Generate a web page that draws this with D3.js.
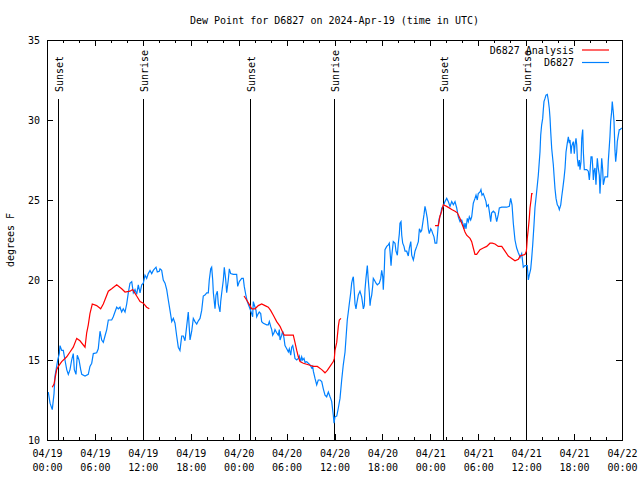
<!DOCTYPE html>
<html>
<head>
<meta charset="utf-8">
<script src="https://cdn.jsdelivr.net/npm/d3@7"></script>
<style>
  html, body { margin: 0; padding: 0; background: #fff; }
  svg { display: block; }
  text { font-family: "DejaVu Sans Mono", monospace; font-size: 10px; fill: #000; }
</style>
</head>
<body>
<svg id="chart" width="640" height="480"></svg>
<script>
// ---------------- DATA ----------------
const title = "Dew Point for D6827 on 2024-Apr-19 (time in UTC)";
const yLabel = "degrees F";
const startUTC = Date.UTC(2024, 3, 19, 0, 0);   // 04/19 00:00 UTC
const endUTC = Date.UTC(2024, 3, 22, 0, 0);     // 04/22 00:00 UTC
const yTicks = [10, 15, 20, 25, 30, 35];
const seriesNames = ["D6827 Analysis", "D6827"];
const seriesColors = ["#ff0000", "#0080ff"];

// sunrise / sunset markers (hours after 04/19 00:00 UTC)
const eventHours = [1.43, 12.08, 25.46, 35.98, 49.55, 60.02];
const eventLabels = ["Sunset", "Sunrise", "Sunset", "Sunrise", "Sunset", "Sunrise"];

// observed dew point (hours after start, degrees F)
const observed = [
[0.16,13.0],[0.38,12.3],[0.66,11.9],[0.88,12.9],[1.0,14.0],[1.21,14.6],[1.34,15.0],[1.54,15.4],[1.63,15.9],[1.84,15.6],
[2.04,15.6],[2.25,15.0],[2.47,14.4],[2.67,14.1],[2.88,14.4],[3.09,15.0],[3.29,15.4],[3.42,14.4],[3.63,14.1],[3.79,15.3],
[4.01,15.0],[4.22,14.4],[4.35,14.1],[4.76,14.0],[5.17,14.1],[5.38,14.6],[5.60,14.8],[5.80,15.4],[6.22,15.45],[6.42,15.7],
[6.64,16.8],[6.85,16.25],[7.05,16.1],[7.26,16.5],[7.48,16.9],[7.68,17.5],[8.10,17.5],[8.30,17.7],[8.51,18.0],[8.73,18.3],
[8.93,18.2],[9.14,18.3],[9.35,18.0],[9.55,18.2],[9.77,18.0],[9.98,18.5],[10.18,19.2],[10.39,19.8],[10.61,19.9],[10.81,19.2],
[11.02,19.4],[11.23,19.1],[11.43,19.7],[11.65,19.2],[11.86,19.7],[12.06,19.8],[12.27,20.3],[12.48,20.1],[12.68,20.4],[12.90,20.6],
[13.11,20.4],[13.31,20.6],[13.65,20.8],[13.81,20.5],[14.06,20.55],
[14.15,20.7],[14.36,20.6],[14.56,20.0],[14.78,19.8],[14.99,19.4],[15.19,18.75],[15.40,18.1],[15.62,17.4],[15.82,17.6],[16.03,17.3],
[16.24,16.5],[16.44,15.8],[16.65,15.6],[16.87,16.5],[17.07,16.5],[17.28,16.2],[17.49,17.1],[17.69,18.0],[17.91,16.25],[18.12,16.8],
[18.32,17.6],[18.53,17.4],[18.75,17.25],[18.95,17.45],[19.16,17.6],[19.37,18.1],[19.57,19.0],[19.78,19.06],[20.0,19.2],[20.2,19.2],
[20.32,20.0],[20.5,20.7],[20.62,20.8],[20.75,20.0],[20.83,19.2],[21.04,18.2],[21.16,19.06],[21.33,19.3],[21.45,18.5],[21.66,18.0],
[21.75,18.65],[21.88,19.2],[22.08,20.0],[22.2,20.8],[22.38,20.0],[22.5,19.2],[22.7,20.0],[22.83,20.7],[23.0,20.4],[23.33,20.35],
[23.75,20.35],[23.88,19.6],[24.08,19.9],[24.38,20.1],[24.58,20.1],[24.7,19.6],[24.92,19.0],[25.08,18.65],
[25.42,18.2],[25.63,17.9],[25.75,17.7],[25.83,18.65],[26.05,18.3],[26.17,18.1],[26.26,17.7],[26.46,17.9],[26.58,18.0],[26.76,17.9],
[26.88,17.4],[27.09,17.3],[27.51,17.2],[27.71,17.2],[27.84,17.4],[28.01,17.1],[28.14,16.9],[28.26,16.55],[28.43,16.7],[28.55,16.9],
[28.76,16.7],[28.96,16.55],[29.09,16.9],[29.18,16.25],[29.39,16.55],[29.51,16.8],[29.68,16.35],[29.8,15.9],[30.02,15.7],[30.22,15.5],
[30.34,15.7],[30.52,15.3],[30.64,15.8],[30.77,15.9],[30.93,15.5],[31.05,15.1],[31.27,15.0],[31.47,15.1],[31.59,15.25],[31.77,14.9],
[31.89,15.2],[32.02,15.0],[32.18,15.1],[32.31,14.85],[32.52,14.9],[32.72,14.8],[32.93,14.7],[33.15,14.5],[33.27,14.6],[33.35,14.3],
[33.56,13.85],[33.77,13.45],[33.97,13.75],[34.19,13.75],[34.4,13.65],[34.6,13.2],[34.81,12.8],[35.02,12.7],[35.23,13.0],[35.44,12.7],
[35.52,12.6],[35.65,12.4],[35.85,11.55],[35.94,11.05],[36.06,11.45],[36.28,11.5],[36.48,12.0],[36.69,12.6],[36.9,13.75],[37.1,14.7],
[37.32,15.5],
[37.6,17.5],[37.73,18.0],[37.85,18.5],[38.03,19.2],[38.15,19.8],[38.28,20.1],[38.36,20.2],[38.44,19.6],[38.57,18.5],[38.69,18.2],
[38.78,18.5],[38.98,19.06],[39.19,19.3],[39.4,18.95],[39.53,18.5],[39.61,18.2],[39.73,18.4],[39.82,19.4],[39.94,20.1],[40.11,20.9],
[40.23,20.0],[40.36,19.2],[40.45,18.4],[40.53,18.75],[40.66,19.06],[40.78,19.6],[40.86,20.1],[40.99,20.0],[41.2,19.8],[41.36,19.7],
[41.61,19.8],[41.79,20.1],[41.91,20.6],[42.04,20.2],[42.11,19.4],[42.24,20.7],[42.32,21.9],[42.54,22.1],[42.74,22.2],[42.86,22.3],
[42.95,21.8],[43.08,20.9],[43.16,21.45],[43.36,22.4],[43.58,22.3],[43.7,21.8],[43.87,21.55],[43.99,22.3],[44.12,22.9],[44.2,23.55],
[44.33,23.65],[44.42,22.8],[44.54,22.3],[44.7,22.1],[44.83,21.8],[45.04,21.8],[45.24,21.5],[45.37,22.0],[45.55,22.4],[45.67,21.55],
[45.87,21.25],[45.96,21.45],[46.08,21.8],[46.3,22.1],[46.5,22.4],[46.63,23.2],[46.8,23.0],[46.92,23.1],[47.05,23.55],[47.21,24.1],
[47.33,24.6],[47.46,24.3],[47.62,23.85],[47.75,23.2],[47.87,22.9],[48.05,23.2],[48.17,23.1],[48.3,22.9],[48.46,22.7],[48.59,22.3],
[48.8,22.3],[48.87,22.7],[49.0,23.45],[49.12,23.85],[49.3,24.1],[49.42,24.5],[49.62,24.6],[49.83,24.9],[50.05,25.1],
[50.25,24.9],[50.46,24.6],[50.68,24.9],[50.88,24.7],[51.09,24.9],[51.3,24.5],[51.5,23.95],[51.72,23.65],[51.93,23.75],[52.13,23.45],
[52.22,23.2],[52.34,23.55],[52.47,23.2],[52.63,23.85],[52.76,23.65],[52.88,23.95],[53.05,23.75],[53.18,23.95],[53.38,24.8],[53.59,25.1],
[53.72,25.3],[53.88,25.0],[54.0,25.4],[54.22,25.5],[54.34,25.65],[54.47,25.3],[54.63,25.4],[54.84,25.1],[54.97,24.9],[55.06,24.6],
[55.26,24.7],[55.38,24.3],[55.56,23.65],[55.68,24.2],[55.89,24.3],[56.1,24.2],[56.31,23.65],[56.51,24.1],[56.64,24.5],[56.94,24.55],
[57.56,24.55],[57.89,24.6],[58.06,25.1],[58.23,24.7],[58.39,23.55],[58.6,22.5],[58.81,22.0],[59.02,21.7],[59.15,21.55],[59.23,21.4],
[59.44,21.65],[59.64,20.8],[59.85,20.9],[60.06,20.9],[60.14,20.9],[60.27,20.0],[60.39,20.3],[60.57,20.7],[60.69,21.35],[60.82,22.2],
[60.98,23.45],[61.1,24.5],[61.31,25.5],[61.52,26.55],[61.73,28.0],[61.82,29.05],[61.94,29.7],[62.07,30.1],[62.14,30.6],[62.23,31.15],
[62.36,31.35],[62.48,31.55],[62.65,31.6],[62.77,31.25],[62.9,30.7],[62.99,30.1],[63.07,29.3],[63.2,28.2],[63.4,27.2],[63.49,26.55],
[63.61,25.7],[63.74,25.1],[63.9,24.7],[64.03,24.6],[64.15,24.4],[64.33,24.7],[64.45,25.2],[64.58,25.7],[64.74,26.35],[64.87,27.0],
[64.99,28.0],[65.15,28.55],[65.28,28.95],[65.4,28.55],[65.49,28.75],[65.62,27.9],[65.7,28.35],[65.83,28.55],[65.91,28.65],[66.03,27.9],
[66.12,28.45],[66.24,28.85],[66.33,28.45],[66.41,27.6],[66.53,27.1],[66.66,27.5],[66.74,26.9],[66.87,27.4],[66.96,28.85],[67.08,29.4],
[67.16,28.0],[67.28,26.9],[67.58,26.9],[67.78,26.8],[67.91,26.25],[68.0,26.8],[68.12,27.7],[68.25,27.7],[68.33,27.1],[68.41,26.25],
[68.49,26.8],[68.62,27.0],[68.74,25.95],[68.83,26.9],[68.91,27.6],[69.03,27.0],[69.16,26.55],[69.24,25.4],[69.37,26.65],[69.46,27.6],
[69.58,26.9],[69.66,25.95],[69.87,26.45],[70.08,26.45],[70.2,26.45],[70.28,27.4],[70.41,28.35],[70.49,28.95],[70.58,29.9],[70.7,30.5],
[70.78,31.15],[70.91,30.5],[71.0,29.9],[71.12,28.1],[71.21,27.4],[71.33,28.0],[71.41,28.65],[71.54,29.05],[71.66,29.4],[71.75,29.4],
[71.96,29.5]
];

// analysis dew point (hours after start, degrees F); null = no analysis
const analysis = [
[0.66,13.3],[0.88,13.5],[1.21,14.4],[1.42,14.6],[1.84,14.9],[2.47,15.2],[2.88,15.5],[3.29,15.8],[3.72,16.35],[4.13,16.2],
[4.76,15.8],[4.97,16.7],[5.17,17.2],[5.38,17.9],[5.67,18.5],[6.22,18.4],[6.72,18.2],[7.05,18.5],[7.68,19.3],[8.10,19.45],
[8.73,19.7],[9.35,19.45],[9.77,19.25],[10.39,19.3],[10.73,19.4],[11.23,19.0],[11.65,18.65],[12.06,18.55],[12.48,18.3],[12.81,18.2],
[18.0,null],
[24.67,19.0],[25.0,18.75],[25.42,18.4],[25.63,18.2],[26.05,18.2],[26.46,18.4],[26.88,18.5],[27.3,18.4],[27.71,18.3],[28.0,18.1],
[28.34,17.8],[28.76,17.4],[29.18,17.1],[29.46,16.8],[29.71,16.55],[30.84,16.55],[31.05,16.1],[31.27,15.6],[31.47,15.2],[31.68,14.9],
[32.09,14.8],[32.72,14.7],[33.35,14.6],[33.85,14.6],[34.4,14.4],[34.81,14.2],[35.1,14.35],[35.44,14.6],[35.85,14.9],[35.98,15.1],
[36.06,15.6],[36.28,16.1],[36.48,17.1],[36.6,17.5],[36.81,17.6],
[42.0,null],
[48.59,23.4],[49.0,23.4],[49.21,24.0],[49.42,24.3],[49.62,24.7],[50.05,24.6],[50.68,24.4],[51.09,24.3],[51.38,24.2],[51.72,23.85],
[51.93,23.55],[52.13,23.3],[52.34,23.0],[52.55,22.8],[52.97,22.6],[53.18,22.4],[53.38,22.0],[53.59,21.6],[53.8,21.6],[54.22,21.9],
[54.63,22.0],[55.06,22.1],[55.47,22.3],[55.76,22.3],[56.1,22.25],[56.51,22.1],[56.94,22.1],[57.35,21.8],[57.76,21.5],[58.19,21.35],
[58.6,21.2],[59.02,21.3],[59.23,21.5],[59.57,21.55],[59.85,21.6],[60.02,21.8],[60.06,22.0],[60.14,22.6],[60.27,23.2],[60.39,23.85],
[60.48,24.5],[60.61,25.0],[60.69,25.4],[60.82,25.4]
];

// ---------------- CHART ----------------
const W = 640, H = 480;
const m = { left: 47, right: 622, top: 40, bottom: 440 };
const svg = d3.select("#chart");
svg.append("rect").attr("width", W).attr("height", H).attr("fill", "#fff");

const toDate = h => new Date(startUTC + h * 3600e3);
const x = d3.scaleUtc().domain([new Date(startUTC), new Date(endUTC)]).range([m.left, m.right]);
const y = d3.scaleLinear().domain([10, 35]).range([m.bottom, m.top]);

// title
svg.append("text").attr("x", (m.left + m.right) / 2).attr("y", 24)
  .attr("text-anchor", "middle").text(title);

// y label
svg.append("text").attr("transform", `translate(14,${(m.top + m.bottom) / 2}) rotate(-90)`)
  .attr("text-anchor", "middle").text(yLabel);

const fmtDate = d3.utcFormat("%m/%d"), fmtTime = d3.utcFormat("%H:%M");

// bottom axis, major ticks inward
const gB = svg.append("g").attr("transform", `translate(0,${m.bottom})`)
  .call(d3.axisBottom(x).ticks(d3.utcHour.every(6)).tickSize(-6).tickPadding(0).tickFormat(""));
gB.selectAll(".tick").each(function(d) {
  const t = d3.select(this).select("text").attr("y", 0).attr("dy", null).text(null);
  t.append("tspan").attr("x", 0).attr("y", 17).text(fmtDate(d));
  t.append("tspan").attr("x", 0).attr("y", 31).text(fmtTime(d));
});
// minor bottom ticks
svg.append("g").attr("transform", `translate(0,${m.bottom})`)
  .call(d3.axisBottom(x).ticks(d3.utcHour.every(2)).tickSize(-3).tickFormat(""));
// top mirror
svg.append("g").attr("transform", `translate(0,${m.top})`)
  .call(d3.axisTop(x).ticks(d3.utcHour.every(6)).tickSize(-6).tickFormat(""));
svg.append("g").attr("transform", `translate(0,${m.top})`)
  .call(d3.axisTop(x).ticks(d3.utcHour.every(2)).tickSize(-3).tickFormat(""));

// left axis
svg.append("g").attr("transform", `translate(${m.left},0)`)
  .call(d3.axisLeft(y).tickValues(yTicks).tickSize(-6).tickPadding(7).tickFormat(d3.format("d")));
// right mirror
svg.append("g").attr("transform", `translate(${m.right},0)`)
  .call(d3.axisRight(y).tickValues(yTicks).tickSize(-6).tickFormat(""));

svg.selectAll(".domain").remove();
svg.selectAll(".tick line").attr("stroke", "#000").attr("shape-rendering", "crispEdges");
svg.selectAll(".tick text").attr("font-family", "DejaVu Sans Mono").attr("font-size", 10).attr("fill", "#000");

// sunrise / sunset lines
const ev = svg.append("g");
eventHours.forEach((h, i) => {
  const px = Math.round(x(toDate(h))) + 0.5;
  ev.append("line").attr("x1", px).attr("x2", px).attr("y1", 99).attr("y2", m.bottom)
    .attr("stroke", "#000").attr("stroke-width", 1);
  ev.append("text").attr("transform", `translate(${px + 4},92) rotate(-90)`)
    .attr("text-anchor", "start").text(eventLabels[i]);
});

// series lines
const line = d3.line()
  .defined(d => d[1] != null)
  .x(d => x(toDate(d[0])))
  .y(d => y(d[1]))
  .curve(d3.curveLinear);

svg.append("path").datum(observed).attr("d", line)
  .attr("fill", "none").attr("stroke", seriesColors[1]).attr("stroke-width", 1.2);
svg.append("path").datum(analysis).attr("d", line)
  .attr("fill", "none").attr("stroke", seriesColors[0]).attr("stroke-width", 1.2);

// legend
const leg = svg.append("g");
seriesNames.forEach((n, i) => {
  const ly = 50 + i * 12.5;
  leg.append("text").attr("x", 574).attr("y", ly + 3.5).attr("text-anchor", "end").text(n);
  leg.append("line").attr("x1", 582).attr("x2", 609).attr("y1", ly).attr("y2", ly)
    .attr("stroke", seriesColors[i]).attr("stroke-width", 1.2);
});

// border
svg.append("rect").attr("x", m.left + 0.5).attr("y", m.top + 0.5)
  .attr("width", m.right - m.left).attr("height", m.bottom - m.top)
  .attr("fill", "none").attr("stroke", "#000").attr("stroke-width", 1)
  .attr("shape-rendering", "crispEdges");
</script>
</body>
</html>
